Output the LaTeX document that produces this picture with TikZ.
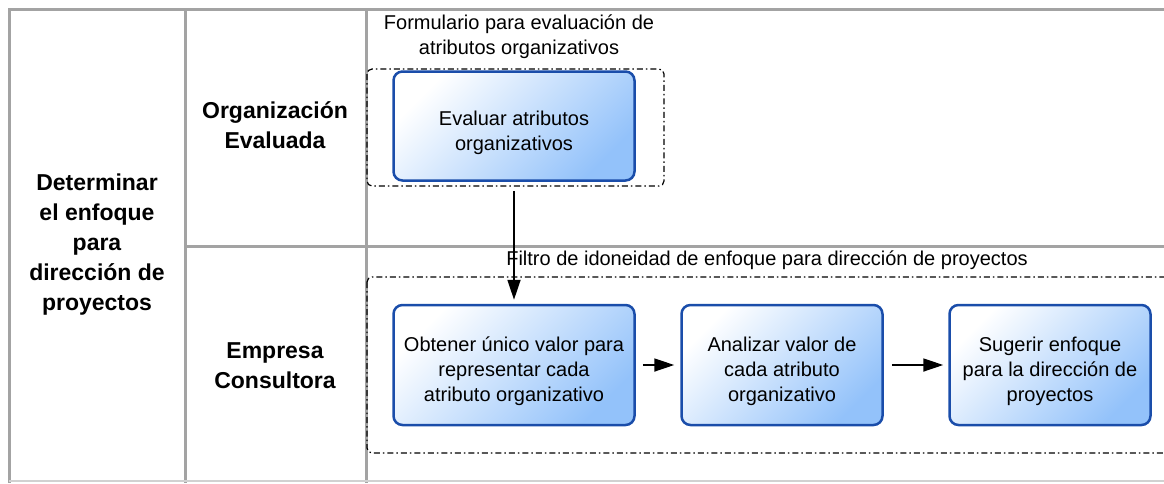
\documentclass[tikz,border=0pt]{standalone}
\usepackage{fontspec}
\setmainfont{Liberation Sans}
\usepackage{tikz}
\usetikzlibrary{arrows.meta,positioning}

\definecolor{laneGray}{HTML}{A3A3A3}
\definecolor{actBorder}{HTML}{1A4DAA}
\definecolor{actBlue}{HTML}{93C2FA}

\begin{document}
\begin{tikzpicture}[x=1pt,y=-1pt,-,>={Triangle[length=20pt,width=13pt]},auto,node distance=268pt,semithick]
  \tikzset{
    activity/.style={draw=actBorder,line width=2.5pt,rounded corners=9pt,
      top color=white,bottom color=actBlue,shading angle=45,
      align=center,text=black,font=\fontsize{20}{25}\selectfont,
      text height=78pt,
      minimum width=201pt,minimum height=120pt,inner sep=0pt},
    lane/.style={draw=laneGray,line width=3pt},
    lanetitle/.style={align=center,font=\fontsize{23}{30}\selectfont\bfseries},
    grouplabel/.style={align=center,font=\fontsize{20}{25}\selectfont,inner sep=0pt},
    groupbox/.style={draw=black,line width=1.2pt,rounded corners=5pt,
      dash pattern=on 6pt off 3pt on 1.5pt off 3pt},
    flow/.style={->,line width=1.8pt}
  }
  \useasboundingbox (0,0) rectangle (1164,483);

  % lanes
  \draw[lane] (1164,9) -- (9,9) -- (9,483);
  \draw[lane] (185,9) -- (185,483);
  \draw[lane] (366,9) -- (366,483);
  \draw[lane] (185,246) -- (1164,246);
  \draw[draw=laneGray!50,line width=1.5pt] (9,481) -- (1164,481);

  \node[lanetitle] (proceso) at (97,245) {Determinar\\el enfoque\\para\\direcci\'on de\\proyectos};
  \node[lanetitle] (orgEval) at (275,125) {Organizaci\'on\\Evaluada};
  \node[lanetitle] (empCons) at (275,366) {Empresa\\Consultora};

  % groups
  \draw[groupbox] (367,69) rectangle (664,186);
  \node[grouplabel] (formulario) at (519,37) {Formulario para evaluaci\'on de\\atributos organizativos};
  \draw[groupbox] (367,277) rectangle (1170,453);
  \node[grouplabel] (filtro) at (767,260) {Filtro de idoneidad de enfoque para direcci\'on de proyectos};

  % activities
  \node[activity,minimum width=241pt] (obtener) at (514,365) {Obtener \'unico valor para\\representar cada\\atributo organizativo};
  \node[activity] (analizar) [right of=obtener] {Analizar valor de\\cada atributo\\organizativo};
  \node[activity] (sugerir) [right of=analizar] {Sugerir enfoque\\para la direcci\'on de\\proyectos};
  \node[activity,minimum width=241pt,minimum height=109pt,text height=53pt] (evaluar) at (514,126) {Evaluar atributos\\organizativos};

  \path[flow] (evaluar) edge[shorten <=9pt,shorten >=4pt] (obtener);
  \path[flow] (obtener) edge[shorten <=7pt,shorten >=6pt] (analizar);
  \path[flow] (analizar) edge[shorten <=8pt,shorten >=5pt] (sugerir);

\end{tikzpicture}
\end{document}
